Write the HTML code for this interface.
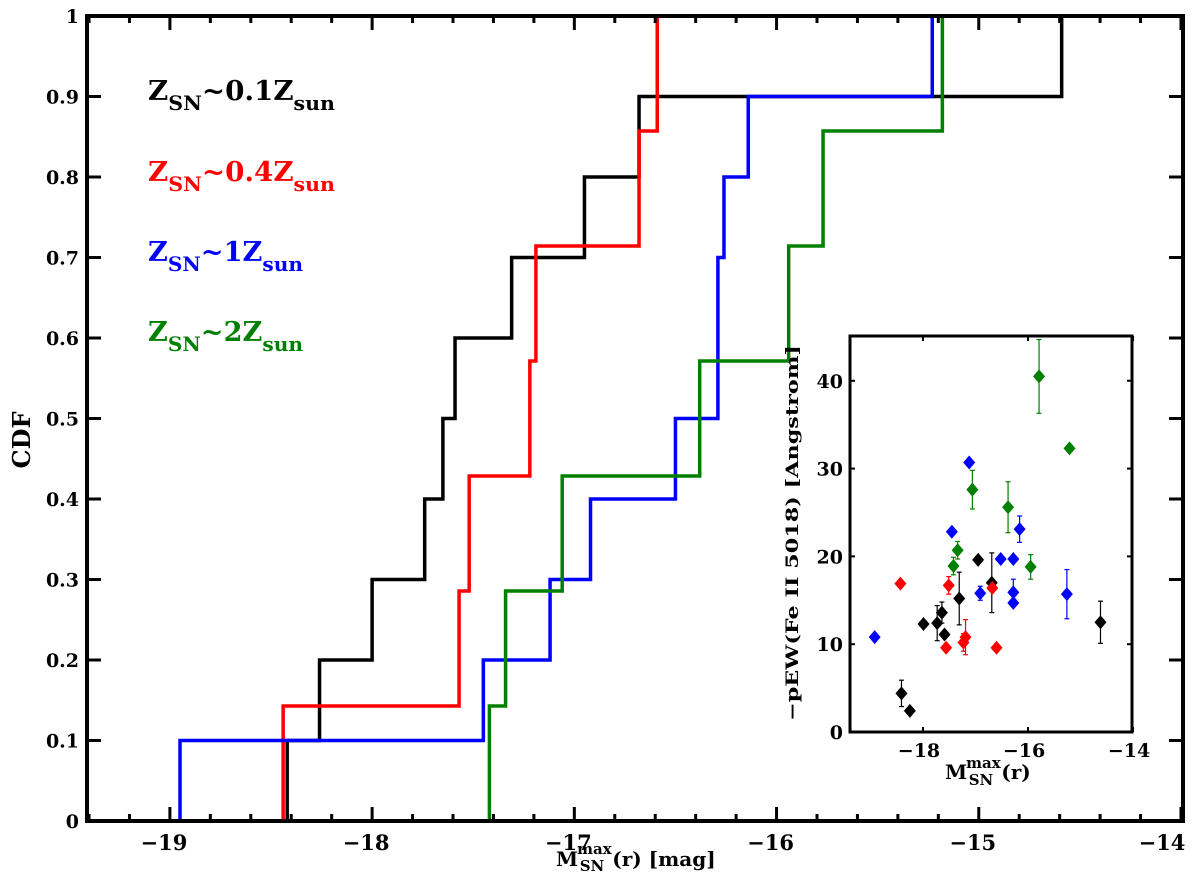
<!DOCTYPE html>
<html><head><meta charset="utf-8"><style>
html,body{margin:0;padding:0;background:#fff}
svg{display:block;font-family:"DejaVu Serif","Liberation Serif",serif;font-weight:bold}
</style></head><body>
<svg id="chart" width="1200" height="883" viewBox="0 0 1200 883" xmlns="http://www.w3.org/2000/svg">
<g id="main"></g>
<g id="inset"></g>
</svg>
<script>
// ---- main CDF data ----
const blackSteps = [-18.42, -18.26, -18.00, -17.74, -17.65, -17.59, -17.31, -16.95, -16.68, -14.59];
const redSteps = [-18.44, -17.57, -17.52, -17.22, -17.19, -16.68, -16.59];
const blueSteps = [-18.95, -17.45, -17.12, -16.92, -16.50, -16.29, -16.29, -16.26, -16.14, -15.23];
const greenSteps = [-17.42, -17.34, -17.06, -16.38, -15.94, -15.77, -15.18];
const yTickLabels = ["0","0.1","0.2","0.3","0.4","0.5","0.6","0.7","0.8","0.9","1"];
const xTickLabels = ["-19","-18","-17","-16","-15","-14"];
// ---- inset data ----
const blackM = [-18.41,-18.25,-17.99,-17.73,-17.64,-17.59,-17.31,-16.95,-16.69,-14.62];
const blackEW = [4.4,2.4,12.3,12.4,13.6,11.1,15.2,19.6,17.0,12.5];
const blackErr = [1.5,0,0,2.0,1.2,0,3.0,0,3.4,2.4];
const redM = [-18.43,-17.51,-17.56,-17.23,-17.19,-16.68,-16.60];
const redEW = [16.9,16.7,9.6,10.2,10.8,16.4,9.6];
const redErr = [0,1.0,0,1.0,2.0,0,0];
const blueM = [-18.92,-17.45,-17.12,-16.91,-16.52,-16.28,-16.28,-16.28,-16.16,-15.26];
const blueEW = [10.8,22.8,30.7,15.8,19.7,19.7,15.9,14.7,23.1,15.7];
const blueErr = [0,0,0,0.8,0,0,1.5,0,1.5,2.8];
const greenM = [-17.42,-17.34,-17.06,-16.38,-15.95,-15.79,-15.21];
const greenEW = [18.9,20.7,27.6,25.6,18.8,40.5,32.3];
const greenErr = [1.0,1.0,2.2,2.9,1.4,4.2,0];
const insetYTicks = ["0","10","20","30","40"];
const insetXTicks = ["-18","-16","-14"];

const NS="http://www.w3.org/2000/svg";
function mk(parent,tag,attrs,text){const e=document.createElementNS(NS,tag);for(const k in attrs)e.setAttribute(k,attrs[k]);if(text!==undefined)e.textContent=text;parent.appendChild(e);return e;}

// main axes
const L=87,R=1183,T=16,B=821, XMIN=-19.41, XMAX=-13.99;
const xs=m=>L+(m-XMIN)/(XMAX-XMIN)*(R-L);
const ys=v=>B-v*(B-T);
const main=document.getElementById('main');

function drawCDF(steps,color,name){
  const n=steps.length;let d=`M${xs(steps[0])},${ys(0)}`;
  for(let i=0;i<n;i++){const y=ys((i+1)/n);d+=` L${xs(steps[i])},${y}`;if(i<n-1)d+=` L${xs(steps[i+1])},${y}`;}
  const p=mk(main,'path',{d:d,fill:'none',stroke:color,'stroke-width':3.5});
  
  
}
drawCDF(blackSteps,'#000','cdf-line-0.1zsun');
drawCDF(redSteps,'#f00','cdf-line-0.4zsun');
drawCDF(blueSteps,'#00f','cdf-line-1zsun');
drawCDF(greenSteps,'#008000','cdf-line-2zsun');

const frame=mk(main,'rect',{x:L,y:T,width:R-L,height:B-T,fill:'none',stroke:'#000','stroke-width':4});


for(let k=0;k<=27;k++){const mm=Math.round((-19.4+k*0.2)*10)/10;const major=Math.abs(mm-Math.round(mm))<0.01;const len=major?14:7;const x=xs(mm);
  mk(main,'line',{x1:x,y1:B,x2:x,y2:B-len,stroke:'#000','stroke-width':3});
  mk(main,'line',{x1:x,y1:T,x2:x,y2:T+len,stroke:'#000','stroke-width':3});}
xTickLabels.forEach(t=>{const v=parseFloat(t);let x=xs(v);if(v===-14)x=1168;
  const e=mk(main,'text',{x:x-6,y:850,'text-anchor':'middle','font-size':21},t.replace('-','\u2212'));
  
  });
yTickLabels.forEach((t,i)=>{const y=ys(i/10);
  mk(main,'line',{x1:L,y1:y,x2:L+14,y2:y,stroke:'#000','stroke-width':3});
  mk(main,'line',{x1:R,y1:y,x2:R-14,y2:y,stroke:'#000','stroke-width':3});
  const e=mk(main,'text',{x:79,y:y+7,'text-anchor':'end','font-size':19},t);
  
  });
const yl=mk(main,'text',{x:0,y:0,transform:'translate(30,440) rotate(-90)','text-anchor':'middle','font-size':24},'CDF');


const xl=mk(main,'text',{x:556,y:866,'font-size':20},'');


xl.innerHTML='M<tspan dy="-12" font-size="15" dx="-1">max</tspan><tspan dy="17" dx="-32" font-size="15">SN</tspan><tspan dy="-5" dx="8">(r) [mag]</tspan>';

// legend
const legends=[["0.1","#000",97,187],["0.4","#f00",178,187],["1","#00f",258,155],["2","#008000",338,155]];
legends.forEach(l=>{const e=mk(main,'text',{x:148,y:l[2]+3,fill:l[1],'font-size':27,textLength:l[3],lengthAdjust:'spacingAndGlyphs'},'');
  
  
  e.innerHTML=`Z<tspan dy="10" font-size="20">SN</tspan><tspan dy="-10">~${l[0]}Z</tspan><tspan dy="10" font-size="20">sun</tspan>`;});

// inset
const inset=document.getElementById('inset');
const iL=850,iR=1132,iT=336,iB=732,IXMIN=-19.39,IXMAX=-14.02,IYMAX=45.1;
const ix=m=>iL+(m-IXMIN)/(IXMAX-IXMIN)*(iR-iL);
const iy=v=>iB-v/IYMAX*(iB-iT);
mk(inset,'rect',{x:iL,y:iT,width:iR-iL,height:iB-iT,fill:'#fff',stroke:'none'});
function drawPts(M,EW,E,color,name){
  M.forEach((m,i)=>{const x=ix(m),y=iy(EW[i]);
    if(E[i]>0){mk(inset,'line',{x1:x,y1:Math.max(iT,iy(EW[i]+E[i])),x2:x,y2:iy(EW[i]-E[i]),stroke:color,'stroke-width':1.2});
      mk(inset,'line',{x1:x-2.5,y1:iy(EW[i]+E[i]),x2:x+2.5,y2:iy(EW[i]+E[i]),stroke:color,'stroke-width':1.2});
      mk(inset,'line',{x1:x-2.5,y1:iy(EW[i]-E[i]),x2:x+2.5,y2:iy(EW[i]-E[i]),stroke:color,'stroke-width':1.2});}
    const p=mk(inset,'path',{d:`M${x},${y-7} L${x+6},${y} L${x},${y+7} L${x-6},${y} Z`,fill:color});
    
    });
}
drawPts(blackM,blackEW,blackErr,'#000','inset-point-0.1zsun');
drawPts(redM,redEW,redErr,'#f00','inset-point-0.4zsun');
drawPts(blueM,blueEW,blueErr,'#00f','inset-point-1zsun');
drawPts(greenM,greenEW,greenErr,'#008000','inset-point-2zsun');
const iframe=mk(inset,'rect',{x:iL,y:iT,width:iR-iL,height:iB-iT,fill:'none',stroke:'#000','stroke-width':3});


insetYTicks.forEach(t=>{const y=iy(parseFloat(t));
  mk(inset,'line',{x1:iL,y1:y,x2:iL+5,y2:y,stroke:'#000','stroke-width':2});
  mk(inset,'line',{x1:iR,y1:y,x2:iR-5,y2:y,stroke:'#000','stroke-width':2});
  const e=mk(inset,'text',{x:iL-7,y:y+7,'text-anchor':'end','font-size':19},t);
  
  });
insetXTicks.forEach(t=>{const x=ix(parseFloat(t));
  mk(inset,'line',{x1:x,y1:iB,x2:x,y2:iB-5,stroke:'#000','stroke-width':2});
  mk(inset,'line',{x1:x,y1:iT,x2:x,y2:iT+5,stroke:'#000','stroke-width':2});
  const e=mk(inset,'text',{x:x-4,y:757,'text-anchor':'middle','font-size':19},t.replace('-','\u2212'));
  
  });
const iyl=mk(inset,'text',{x:0,y:0,transform:'translate(798,533) rotate(-90)','text-anchor':'middle','font-size':17,textLength:376,lengthAdjust:'spacingAndGlyphs'},'\u2212pEW(Fe II 5018) [Angstrom]');


const ixl=mk(inset,'text',{x:945,y:779,'font-size':20},'');


ixl.innerHTML='M<tspan dy="-11" font-size="15" dx="-1">max</tspan><tspan dy="17" dx="-32" font-size="15">SN</tspan><tspan dy="-6" dx="8">(r)</tspan>';
</script>
</body></html>
